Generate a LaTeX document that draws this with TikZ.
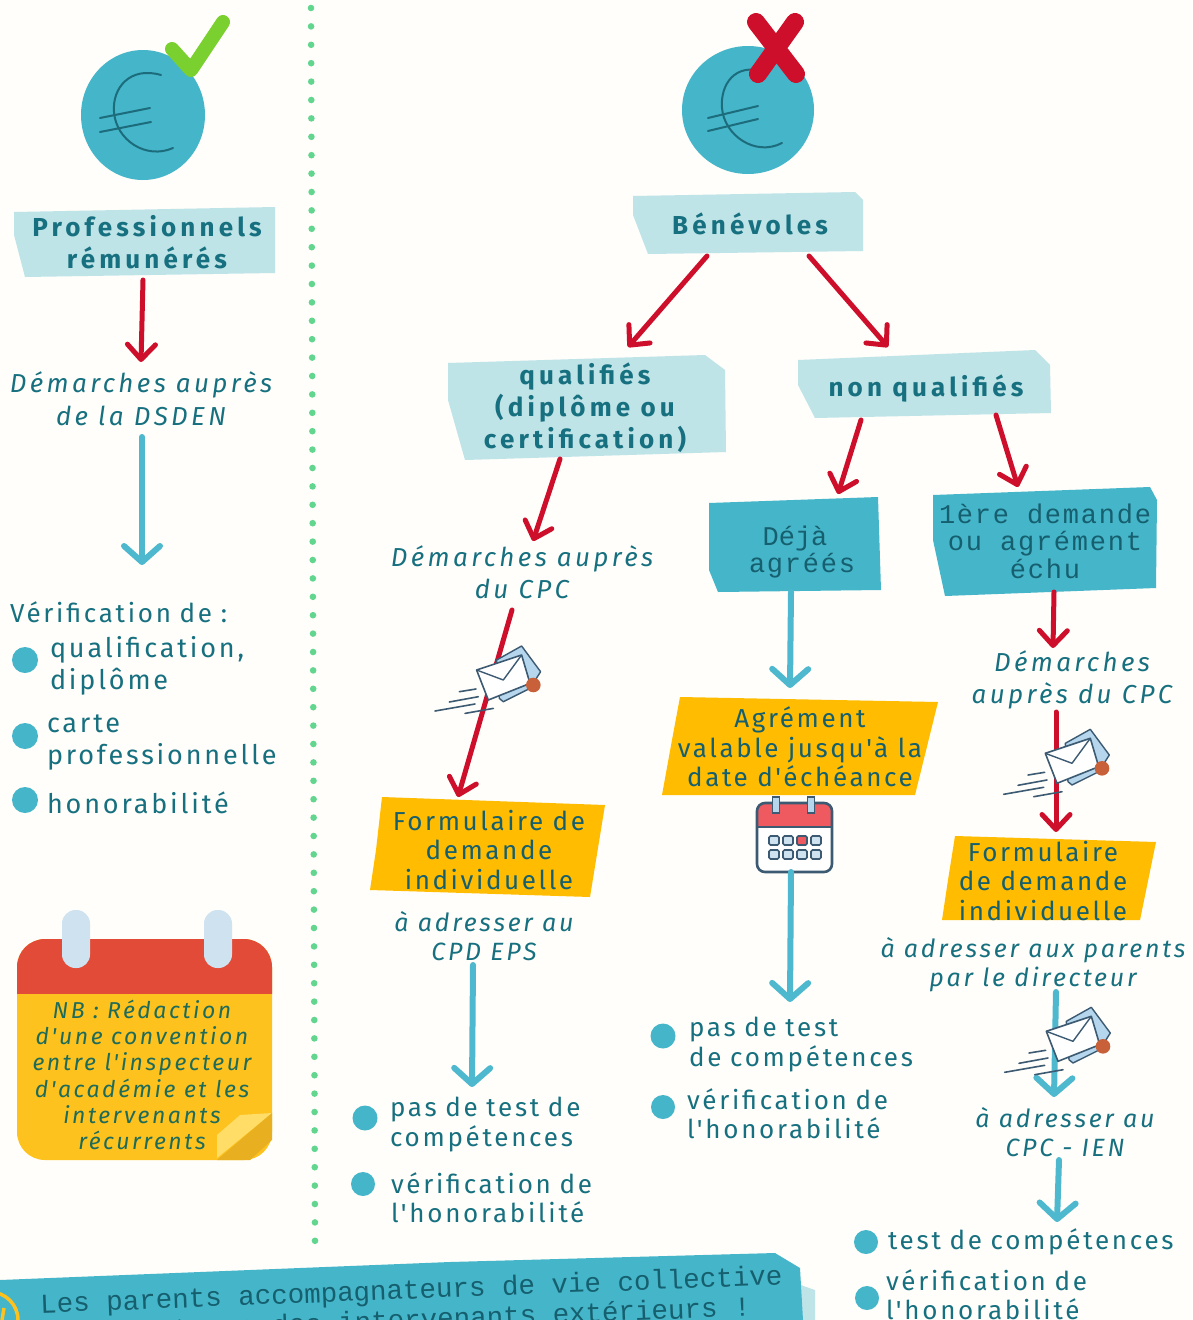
\documentclass[tikz,border=0pt]{standalone}
\usepackage{fontspec}
\usetikzlibrary{arrows.meta}
\setmainfont{Fira Sans}
\newfontfamily\bodyf[LetterSpace=10.5]{Fira Sans}
\newfontfamily\formf[LetterSpace=10]{Fira Sans}
\newfontfamily\boldf[LetterSpace=16]{Fira Sans}
\newfontfamily\demf[LetterSpace=13]{Fira Sans}
\newfontfamily\adrf[LetterSpace=11]{Fira Sans}
\newfontfamily\monof[LetterSpace=0]{Liberation Mono}
\newfontfamily\monow[LetterSpace=6.5]{Liberation Mono}
\definecolor{paper}{HTML}{FFFEFA}
\definecolor{coin}{HTML}{45B5C9}
\definecolor{light}{HTML}{BFE4E8}
\definecolor{ink}{HTML}{17707F}
\definecolor{deep}{HTML}{155F6E}
\definecolor{rouge}{HTML}{CE0F2B}
\definecolor{bleu}{HTML}{4DB8CE}
\definecolor{jaune}{HTML}{FFBC00}
\definecolor{dots}{HTML}{62D68E}
\definecolor{note}{HTML}{FDC21E}
\definecolor{notered}{HTML}{E24B37}
\definecolor{ring}{HTML}{CFE2F0}
\definecolor{noteink}{HTML}{1F6B5A}
\definecolor{slate}{HTML}{3D5A73}
\definecolor{envback}{HTML}{B5D6EC}
\definecolor{badge}{HTML}{C8603A}
\definecolor{checkgreen}{HTML}{7AD02F}
\definecolor{foldlight}{HTML}{FFDD66}
\definecolor{folddark}{HTML}{E8B020}
\definecolor{calred}{HTML}{EE5A5F}
\tikzset{
  x=1pt,y=-1pt,
  banner/.style={fill=light,draw=none},
  tealbox/.style={fill=coin,draw=none},
  yellowbox/.style={fill=jaune,draw=none},
  boxtxt/.style={inner sep=0,outer sep=0,align=center,text=ink,font=\boldf\bfseries\fontsize{26}{32}\selectfont},
  formtxt/.style={inner sep=0,outer sep=0,align=center,text=deep,font=\formf\fontsize{26}{29.5}\selectfont},
  monotxt/.style={inner sep=0,outer sep=0,align=center,text=deep,font=\monow\fontsize{27}{27.5}\selectfont},
  itxt/.style={inner sep=0,outer sep=0,align=center,text=ink,font=\demf\itshape\fontsize{26}{32.5}\selectfont},
  adrtxt/.style={inner sep=0,outer sep=0,align=center,text=ink,font=\adrf\itshape\fontsize{25}{29}\selectfont},
  ltxt/.style={inner sep=0,outer sep=0,anchor=west,align=left,text=ink,font=\bodyf\fontsize{26}{29.5}\selectfont},
  ltxtb/.style={ltxt,font=\bodyf\fontsize{27}{32}\selectfont},
  redarrow/.style={draw=rouge,line width=5pt,line cap=round,-{Straight Barb[length=15pt,width=28pt,line width=5pt,round]}},
  bluearrow/.style={draw=bleu,line width=6pt,line cap=round,-{Straight Barb[length=16pt,width=36pt,line width=6pt,round]}},
  puce/.style={fill=coin,draw=none},
  euro/.style={draw=deep!85!coin,line width=2pt,line cap=round},
  envelope/.pic={
    \fill[envback,draw=slate,line width=1.4pt,line join=round] (-6.7,-16.7) -- (18.3,-30.7) -- (37.3,-5) -- (26.7,11.7) -- (0,25) -- (-4,21.7) -- cycle;
    \fill[white,draw=slate,line width=1.6pt,line join=round] (-26.7,-6.7) -- (18.3,-21.7) -- (26.7,6.7) -- (-15,23.3) -- cycle;
    \draw[slate,line width=1.4pt,line join=round] (-26.7,-6.7) -- (0,3.3) -- (18.3,-21.7);
    \fill[badge] (30,8.3) circle[radius=7.3];
    \draw[slate,line width=1.6pt,line cap=round] (-44,15) -- (-27.3,12.3) (-54,25.3) -- (-25,20) (-68.3,34.3) -- (-28.3,27.3) (-38.3,36.7) -- (-10,31.7);
  }
}
\begin{document}
\begin{tikzpicture}
\useasboundingbox (0,0) rectangle (1192,1320);
\clip (0,0) rectangle (1192,1320);
\fill[paper] (0,0) rectangle (1192,1320);

% dotted separator
\foreach \i in {0,...,67}{
  \fill[dots] ({311+\i*4/67},{8+\i*18.4}) circle[radius=3.3];
}

% coins
\fill[coin] (143,115) ellipse[x radius=62,y radius=65];
\draw[euro] (161,75) .. controls (130,66) and (112,88) .. (114,112) .. controls (116,140) and (146,160) .. (173,148);
\draw[euro] (100,118) -- (150,108) (100,132) -- (151,122);
\draw[line width=14pt,draw=checkgreen,line join=round,line cap=round] (172,49) -- (191,70) -- (223,22);

\fill[coin] (748,110) ellipse[x radius=66,y radius=64];
\draw[euro] (764,72) .. controls (735,62) and (720,85) .. (722,108) .. controls (724,135) and (755,157) .. (782,143);
\draw[euro] (708,118) -- (758,106) (708,131) -- (758,119);
\draw[rouge,line width=18pt,line cap=round] (756,22) -- (796,74) (795,22) -- (758,74);

% banners
\fill[banner] (14,212) -- (275,207) -- (275,273) -- (25,277) -- (14,235) -- cycle;
\node[boxtxt,minimum width=262pt,minimum height=70pt] (prof) at (147,242) {Professionnels\\rémunérés};
\fill[banner] (633,196) -- (855,192) -- (863,200) -- (863,251) -- (648,254) -- (633,215) -- cycle;
\node[boxtxt,minimum width=230pt,minimum height=60pt] (ben) at (750,224) {Bénévoles};
\fill[banner] (448,363) -- (705,355) -- (725,370) -- (726,452) -- (465,460) -- (448,400) -- cycle;
\node[boxtxt,minimum width=278pt,minimum height=104pt] (qual) at (585,408) {qualifiés\\(diplôme ou\\certification)};
\fill[banner] (798,360) -- (1035,350) -- (1050,365) -- (1051,413) -- (815,418) -- (798,385) -- cycle;
\node[boxtxt,minimum width=254pt,minimum height=68pt] (nonq) at (926,389) {non qualifiés};

% teal boxes
\fill[tealbox] (709,503) -- (878,497) -- (881,590) -- (718,592) -- (709,570) -- cycle;
\node[monotxt,font=\monof\fontsize{27}{27}\selectfont,minimum width=172pt,minimum height=96pt] (deja) at (795,552) {Déjà\\\hspace*{14pt}{\monow agréés}};
\fill[tealbox] (933,495) -- (1150,487) -- (1157,500) -- (1156,588) -- (945,596) -- (933,540) -- cycle;
\node[monotxt,minimum width=224pt,minimum height=108pt] (first) at (1045,541) {1ère demande\\ou agrément\\échu};

% yellow boxes
\fill[yellowbox] (382,797) -- (605,805) -- (590,897) -- (370,890) -- (376,850) -- cycle;
\node[formtxt,minimum width=235pt,minimum height=104pt] (form1) at (489,850) {Formulaire de\\demande\\individuelle};
\fill[yellowbox] (680,697) -- (938,702) -- (915,795) -- (662,795) -- (672,740) -- cycle;
\node[formtxt,minimum width=276pt,minimum height=100pt] (agr) at (800,747) {Agrément\\valable jusqu'à la\\date d'échéance};
\fill[yellowbox] (955,836) -- (1156,842) -- (1140,920) -- (942,920) -- (948,880) -- cycle;
\node[formtxt,minimum width=214pt,minimum height=88pt] (form2) at (1043,881) {Formulaire\\de demande\\individuelle};

% italic texts
\node[itxt,minimum width=270pt,minimum height=64pt] (dem1) at (141,398.5) {Démarches auprès\\de la DSDEN};
\node[itxt,minimum width=270pt,minimum height=64pt] (dem2) at (522,572) {Démarches auprès\\du CPC};
\node[itxt,minimum width=220pt,minimum height=64pt] (dem3) at (1072,680) {Démarches\\auprès du CPC};
\node[adrtxt,minimum height=60pt] (adr1) at (484,936.5) {à adresser au\\CPD EPS};
\node[adrtxt,minimum width=320pt,minimum height=60pt] (adr2) at (1033,964.5) {à adresser aux parents\\par le directeur};
\node[adrtxt,minimum width=200pt,minimum height=60pt] (adr3) at (1065,1132.5) {à adresser au\\CPC - IEN};

% lists
\node[ltxt,text width=250pt,minimum height=32pt] (verif) at (10,612) {Vérification de :};
\fill[puce] (25,660) circle[radius=13];
\node[ltxtb,text width=240pt,minimum height=62pt] (l1a) at (50,666) {qualification,\\diplôme};
\fill[puce] (25,736) circle[radius=13];
\node[ltxtb,text width=250pt,minimum height=62pt] (l1b) at (47,742) {carte\\professionnelle};
\fill[puce] (25,800) circle[radius=13];
\node[ltxtb,text width=240pt,minimum height=32pt] (l1c) at (47,803) {honorabilité};

\fill[puce] (365,1118) circle[radius=12.5];
\node[ltxt,text width=200pt,minimum height=60pt] (l2a) at (390,1124.5) {pas de test de\\compétences};
\fill[puce] (363,1184) circle[radius=12];
\node[ltxt,text width=220pt,minimum height=60pt] (l2b) at (391,1197.5) {vérification de\\l'honorabilité};

\fill[puce] (663,1036) circle[radius=12.5];
\node[ltxt,text width=240pt,minimum height=60pt] (l3a) at (689,1044.5) {pas de test\\de compétences};
\fill[puce] (663,1107) circle[radius=12];
\node[ltxt,text width=220pt,minimum height=60pt] (l3b) at (687,1113.5) {vérification de\\l'honorabilité};

\fill[puce] (866,1242) circle[radius=12];
\node[ltxt,text width=300pt,minimum height=30pt] (l4a) at (888,1242) {test de compétences};
\fill[puce] (867,1298) circle[radius=12];
\node[ltxt,text width=220pt,minimum height=60pt] (l4b) at (886,1294.5) {vérification de\\l'honorabilité};

% big note calendar
\fill[note,rounded corners=28pt] (17,939) rectangle (272,1160);
\begin{scope}
\clip (0,930) rectangle (290,993);
\fill[notered,rounded corners=28pt] (17,939) rectangle (272,1160);
\end{scope}
\fill[ring,rounded corners=13.5pt] (62,910) rectangle (90,968);
\fill[ring,rounded corners=13.5pt] (204,910) rectangle (232,968);
\fill[foldlight] (272,1113) -- (240,1115) -- (217,1135) -- (217,1158) -- cycle;
\fill[folddark] (272,1113) -- (272,1140) -- (250,1160) -- (217,1160) -- cycle;
\node[inner sep=0,align=center,text=noteink,font=\adrf\itshape\fontsize{23}{26.3}\selectfont] (nb) at (142,1075) {NB : Rédaction\\d'une convention\\entre l'inspecteur\\d'académie et les\\intervenants\\récurrents};

% small calendar
\node[inner sep=0,outer sep=0,minimum width=75pt,minimum height=69pt] (cal) at (794.5,837.5) {};
\fill[white,rounded corners=8pt] (757,803) rectangle (832,872);
\begin{scope}
\clip (750,795) rectangle (840,827);
\fill[calred,rounded corners=8pt] (757,803) rectangle (832,872);
\end{scope}
\draw[slate,line width=2.6pt,rounded corners=8pt] (757,803) rectangle (832,872);
\draw[slate,line width=2pt] (757,827) -- (832,827);
\foreach \cx in {776,811}{
  \fill[envback,draw=slate,line width=1.8pt] ({\cx-3.5},797) rectangle ({\cx+3.5},813);
}
\foreach \cx in {769,783,797,811}{
  \fill[ring,draw=slate,line width=1.6pt,rounded corners=1.5pt] (\cx,836) rectangle ({\cx+10},845);
  \fill[ring,draw=slate,line width=1.6pt,rounded corners=1.5pt] (\cx,850) rectangle ({\cx+10},859);
}
\fill[calred,draw=slate,line width=1.6pt,rounded corners=1.5pt] (797,836) rectangle (807,845);

% connectors
\draw[redarrow] ([xshift=-4pt,yshift=-3pt]prof.south) -- ([yshift=4.5pt]dem1.north);
\draw[bluearrow] ([xshift=1pt,yshift=-6.5pt]dem1.south) -- ([xshift=7pt,yshift=31pt]verif.north);
\draw[redarrow] ([xshift=-43pt,yshift=-2pt]ben.south) -- ([xshift=43pt,yshift=9pt]qual.north);
\draw[redarrow] ([xshift=59pt,yshift=-2pt]ben.south) -- ([xshift=-38pt,yshift=8pt]nonq.north);
\draw[redarrow] ([xshift=-25pt,yshift=1pt]qual.south) -- ([xshift=11pt,yshift=-1pt]dem2.north);
\draw[redarrow] ([xshift=-10pt,yshift=-6pt]dem2.south) -- ([xshift=-31pt,yshift=1pt]form1.north);
\draw[bluearrow] ([xshift=-11pt,yshift=1.5pt]adr1.south) -- ([xshift=-18pt,yshift=7.5pt]l2a.north);
\draw[redarrow] ([xshift=-65pt,yshift=3pt]nonq.south) -- ([xshift=43pt,yshift=10pt]deja.north);
\draw[redarrow] ([xshift=70pt,yshift=8pt]nonq.south) -- ([xshift=-27pt]first.north);
\draw[bluearrow] ([xshift=-4pt,yshift=8pt]deja.south) -- ([xshift=-10pt,yshift=9pt]agr.north);
\draw[bluearrow] ([xshift=-3.5pt]cal.south) -- ([xshift=-19pt,yshift=12.5pt]l3a.north);
\draw[redarrow] ([xshift=9pt,yshift=3pt]first.south) -- ([xshift=-19pt]dem3.north);
\draw[redarrow] ([xshift=-16pt]dem3.south) -- ([xshift=13pt,yshift=5pt]form2.north);
\draw[bluearrow] ([xshift=23pt,yshift=2.5pt]adr2.south) -- ([xshift=-11pt,yshift=5.5pt]adr3.north);
\draw[bluearrow] ([xshift=-6pt,yshift=2.5pt]adr3.south) -- ([xshift=19pt,yshift=5pt]l4a.north);

% envelopes
\pic at (503.3,676.7) {envelope};
\pic at (1072,760) {envelope};
\pic at (1073,1038) {envelope};

% bottom banner
\fill[light] (795,1283) -- (815,1290) -- (815,1320) -- (795,1320) -- cycle;
\fill[coin] (0,1280) -- (450,1262) -- (775,1253) -- (800,1268) -- (803,1320) -- (0,1320) -- cycle;
\draw[note,line width=3.5pt] (-10,1320) circle[radius=28];
\draw[note,line width=3.5pt] (2,1320) -- (4,1308);
\node[rotate=2.2,inner sep=0,outer sep=0,align=center,text=deep,font=\monof\fontsize{27.5}{30}\selectfont,anchor=north] (bas) at (411,1279) {Les parents accompagnateurs de vie collective\\ne sont pas des intervenants extérieurs !};
\end{tikzpicture}
\end{document}
